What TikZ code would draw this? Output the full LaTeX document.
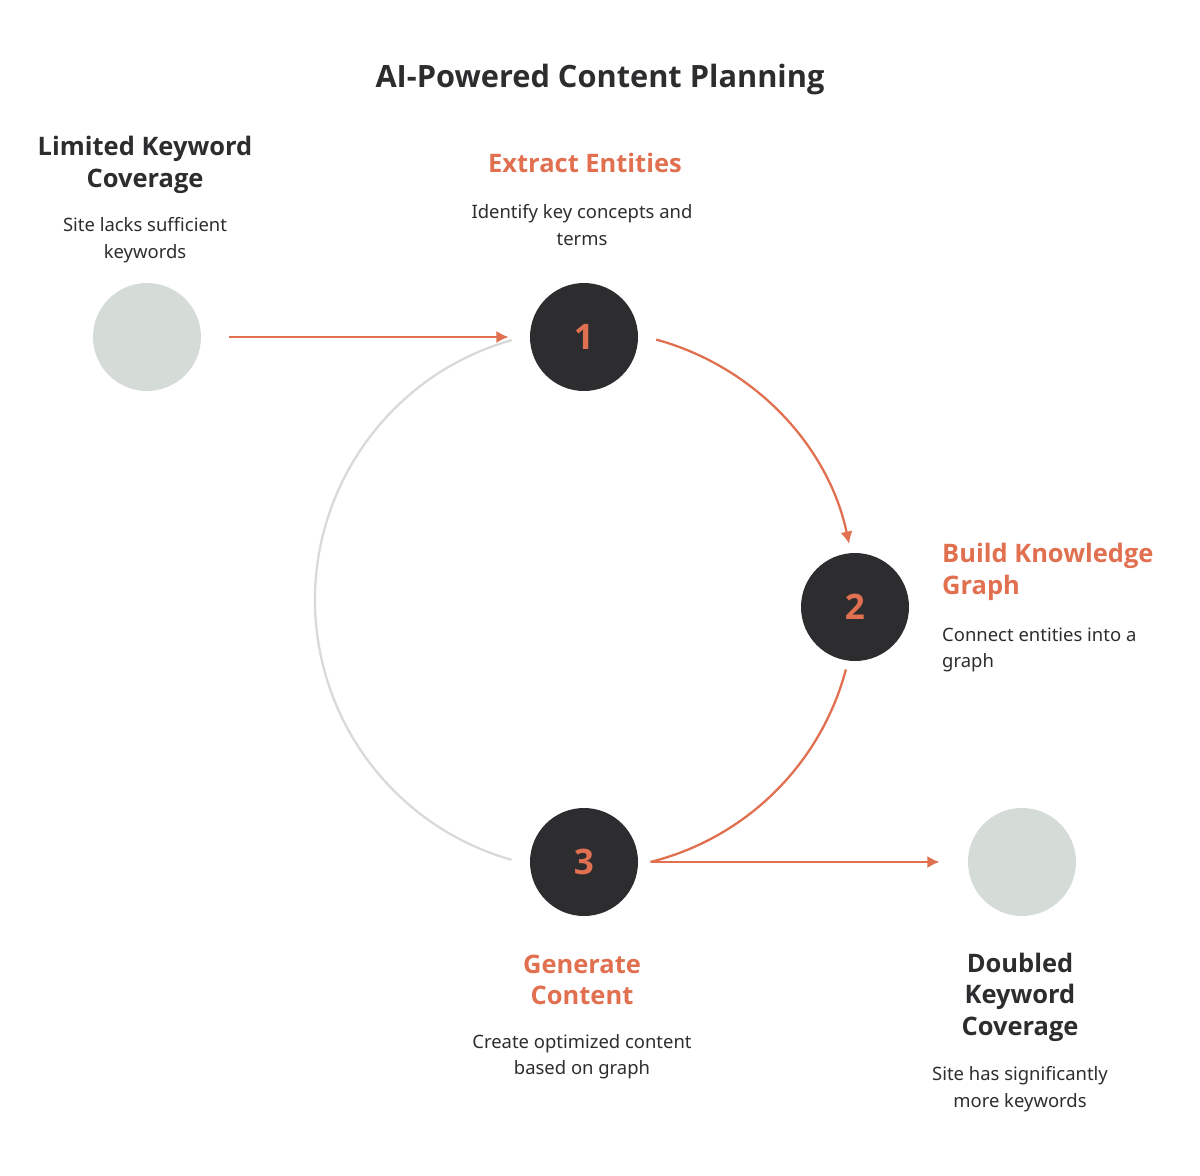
\documentclass[tikz,border=0pt]{standalone}
\usepackage{fontspec}
\setmainfont{Noto Sans}
\newfontfamily\headfont{Open Sans}
\usetikzlibrary{arrows.meta}
\definecolor{accent}{HTML}{E07050}
\definecolor{ink}{HTML}{2D2D30}
\definecolor{fog}{HTML}{D5DCD8}
\definecolor{ring}{HTML}{D8DAD8}

\begin{document}
\begin{tikzpicture}[x=0.02cm,y=-0.02cm,
    stage/.style={circle, fill=ink, minimum size=108*0.02cm, inner sep=0pt,
      text=accent, font=\headfont\bfseries\fontsize{20}{24}\selectfont},
    state/.style={circle, fill=fog, minimum size=108*0.02cm, inner sep=0pt},
    head/.style={align=center, font=\headfont\bfseries\fontsize{14.5}{18}\selectfont},
    desc/.style={align=center, text=ink, font=\fontsize{10.5}{15}\selectfont},
    flow/.style={accent, line width=1.3pt, -{Latex[length=7pt,width=7pt]}}]
        \useasboundingbox (0,0) rectangle (1200,1176);

        % title
        \node [font=\headfont\bfseries\fontsize{17.5}{21}\selectfont, text=ink]
          (title) at (600,80) {AI-Powered Content Planning};

        % circles
        \node [state] (start) at (147,337) {};
        \node [stage] (s1) at (584,337) {1};
        \node [stage] (s2) at (855,607) {2};
        \node [stage] (s3) at (584,862) {3};
        \node [state] (goal) at (1022,862) {};

        % labels
        \node [head, text=ink] (startHead) at (145,165) {Limited Keyword\\Coverage};
        \node [desc] (startDesc) at (145,240) {Site lacks sufficient\\keywords};
        \node [head, text=accent] (s1Head) at (585,163) {Extract Entities};
        \node [desc] (s1Desc) at (582,225) {Identify key concepts and\\terms};
        \node [head, text=accent, align=left, anchor=west] (s2Head) at (936,572) {Build Knowledge\\Graph};
        \node [desc, align=left, anchor=west] (s2Desc) at (936,650) {Connect entities into a\\graph};
        \node [head, text=accent] (s3Head) at (582,980) {Generate\\Content};
        \node [desc] (s3Desc) at (582,1057) {Create optimized content\\based on graph};
        \node [head, text=ink] (goalHead) at (1020,997) {Doubled\\Keyword\\Coverage};
        \node [desc] (goalDesc) at (1020,1089) {Site has significantly\\more keywords};

        % loop
        \coordinate (hub) at (585,600);
        \draw [ring, line width=1.3pt] (hub) ++(-105.7:270)
          arc [start angle=-105.7, end angle=-254.2, radius=270];
        \draw [flow] (hub) ++(-74.7:270)
          arc [start angle=-74.7, end angle=-12.0, radius=270];
        \draw [accent, line width=1.3pt] (hub) ++(14.9:270)
          arc [start angle=14.9, end angle=76, radius=270];

        % straight arrows
        \draw [flow, shorten <=16pt, shorten >=12pt] (start) -- (s1);
        \draw [flow, shorten <=8pt, shorten >=16pt] (s3) -- (goal);
      \end{tikzpicture}
\end{document}
